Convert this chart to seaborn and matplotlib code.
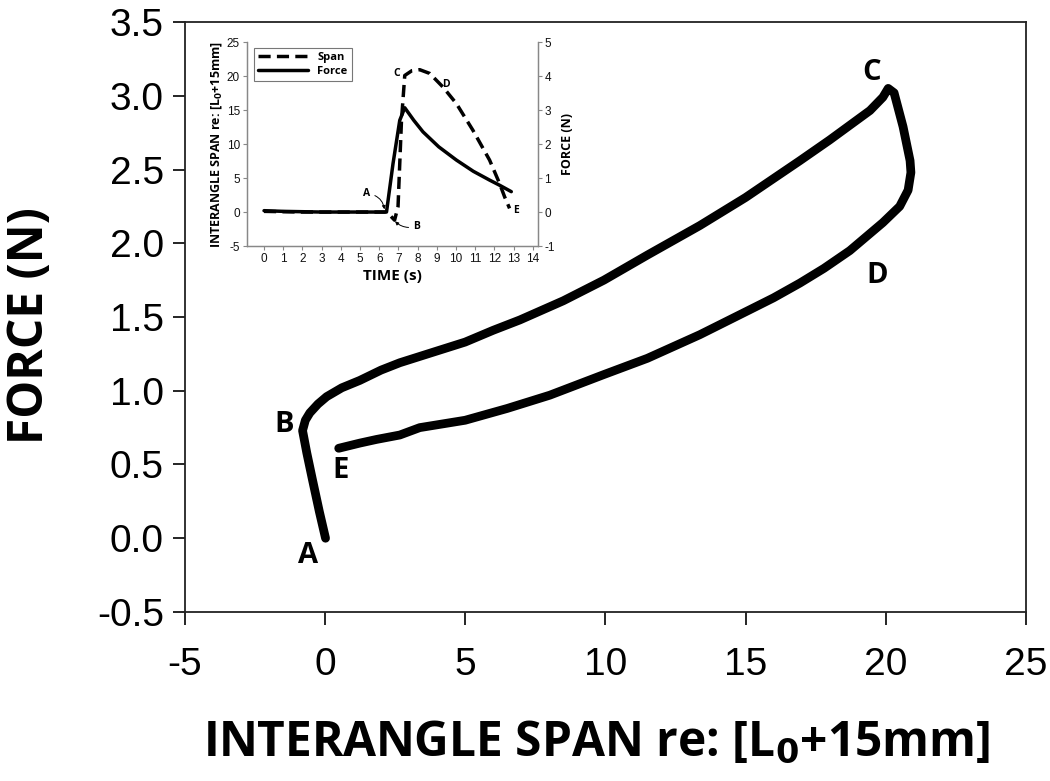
import matplotlib
matplotlib.use("Agg")
import matplotlib.pyplot as plt
import seaborn as sns
import pandas as pd
from matplotlib.lines import Line2D

sns.set_style("ticks")
plt.rcParams['font.family'] = ['Liberation Sans', 'DejaVu Sans']
plt.rcParams['axes.unicode_minus'] = False
plt.rcParams['text.color'] = 'black'
plt.rcParams['axes.labelcolor'] = 'black'
plt.rcParams['xtick.color'] = 'black'
plt.rcParams['ytick.color'] = 'black'

# main loop: force vs interangle span, A -> B -> C -> D -> E
span_main = [0.02, -0.2, -0.45, -0.65, -0.8, -0.7, -0.54, -0.25, 0.06, 0.6, 1.24,
             2.0, 2.67, 4.0, 5.0, 6.0, 6.95, 8.5, 9.95, 11.5, 13.37, 15.0, 16.94,
             18.0, 18.72, 19.44, 19.9, 20.09, 20.3, 20.62, 20.87, 20.9, 20.8, 20.5,
             19.9, 18.72, 17.8, 16.94, 16.0, 15.16, 13.37, 11.5, 9.95, 8.02, 6.5,
             5.0, 3.38, 2.67, 1.84, 1.24, 0.49]
force_main = [0.0, 0.18, 0.4, 0.58, 0.73, 0.8, 0.85, 0.91, 0.96, 1.02, 1.07,
              1.14, 1.19, 1.27, 1.33, 1.41, 1.48, 1.61, 1.75, 1.92, 2.12, 2.31, 2.56,
              2.70, 2.80, 2.90, 2.99, 3.05, 3.02, 2.79, 2.56, 2.48, 2.36, 2.25,
              2.14, 1.95, 1.83, 1.73, 1.63, 1.55, 1.38, 1.22, 1.11, 0.97, 0.88,
              0.80, 0.75, 0.70, 0.67, 0.645, 0.61]

# inset: time courses
time_span = [0, 1, 2, 3, 4, 5, 6, 6.38, 6.6, 6.8, 6.98, 7.16, 7.33, 7.7, 8.11,
             8.63, 9.32, 10.02, 10.88, 11.75, 12.27, 12.53, 12.79]
span_t = [0.1, 0.05, 0, 0, 0, 0, 0, 0, -0.6, -1.2, 0.8, 13.5, 20.1, 20.8, 20.95,
          20.4, 18.4, 15.96, 12.04, 7.64, 4.2, 2.25, 0.54]
time_force = [0, 1, 2, 3, 4, 5, 6, 6.38, 6.72, 7.07, 7.33, 7.8, 8.28, 9.1, 10.02,
              10.9, 11.75, 12.3, 12.88]
force_t = [0.04, 0.02, 0.01, 0, 0, 0, 0, 0, 1.43, 2.7, 3.07, 2.7, 2.36, 1.92,
           1.53, 1.2, 0.94, 0.78, 0.60]

main_labels = ["A", "B", "C", "D", "E"]
main_label_pos = [(-0.6, -0.12), (-1.45, 0.77), (19.5, 3.16), (19.7, 1.78), (0.55, 0.46)]

fig = plt.figure(figsize=(10.5, 7.81), dpi=100)
ax = fig.add_axes([0.176, 0.2164, 0.801, 0.7554])

df_main = pd.DataFrame({"span": span_main, "force": force_main})
sns.lineplot(data=df_main, x="span", y="force", sort=False, estimator=None,
             color="black", lw=6.3, ax=ax, solid_capstyle="round", solid_joinstyle="round")
ax.set_xlim(-5, 25)
ax.set_ylim(-0.5, 3.5)
ax.set_xticks(range(-5, 26, 5))
ax.set_yticks([-0.5, 0, 0.5, 1, 1.5, 2, 2.5, 3, 3.5])
ax.set_yticklabels([f"{v:.1f}" for v in ax.get_yticks()])
ax.tick_params(axis="both", labelsize=28, length=9, width=1.2, direction="out", pad=6)
ax.tick_params(axis="x", pad=16)
for s in ax.spines.values():
    s.set_linewidth(1.3)
    s.set_color("#222222")
ax.set_xlabel("INTERANGLE SPAN re: [L$_\\mathbf{0}$+15mm]", fontsize=34.5,
              fontweight="bold", family="Open Sans")
ax.set_ylabel("FORCE (N)", fontsize=34.5, fontweight="bold", family="Open Sans")
ax.xaxis.set_label_coords(0.49, -0.182)
ax.yaxis.set_label_coords(-0.154, 0.486)
for lab, (x, y) in zip(main_labels, main_label_pos):
    ax.text(x, y, lab, fontsize=21, fontweight="bold", family="Open Sans",
            ha="center", va="center")

# inset
ins = fig.add_axes([0.235, 0.685, 0.277, 0.261])
ins2 = ins.twinx()
dash = (0, (3.5, 1.8))
sns.lineplot(x=time_span, y=span_t, color="black", lw=2.5, ax=ins, linestyle=dash,
             sort=False, estimator=None)
sns.lineplot(x=time_force, y=force_t, color="black", lw=2.5, ax=ins2,
             sort=False, estimator=None)
ins.set_xlim(-0.9, 14.25)
ins.set_ylim(-5, 25)
ins2.set_ylim(-1, 5)
ins.set_xticks(range(0, 15))
ins.set_yticks(range(-5, 26, 5))
ins2.set_yticks(range(-1, 6))
for a in (ins, ins2):
    a.tick_params(labelsize=8.5, length=3, width=0.8, direction="out", pad=2,
                  colors="#888888", labelcolor="#111111")
    a.spines["top"].set_visible(False)
    for s in a.spines.values():
        s.set_linewidth(0.9)
        s.set_color("#888888")
ins.set_xlabel("TIME (s)", fontsize=11, fontweight="bold", family="Open Sans", labelpad=3)
ins.set_ylabel("INTERANGLE SPAN re: [L$_\\mathbf{0}$+15mm]", fontsize=9,
               fontweight="bold", family="Open Sans", labelpad=2)
ins2.set_ylabel("FORCE (N)", fontsize=9, fontweight="bold", family="Open Sans", labelpad=4)

handles = [Line2D([], [], color="black", lw=2.5, linestyle=dash),
           Line2D([], [], color="black", lw=2.5)]
leg = ins.legend(handles, ["Span", "Force"], loc="upper left",
                 handlelength=4.5, fancybox=False, edgecolor="#555555",
                 prop={"weight": "bold", "size": 8, "family": "Open Sans"},
                 borderpad=0.4, labelspacing=0.25, bbox_to_anchor=(0.005, 1.0))
leg.get_frame().set_linewidth(0.8)

txt_kw = dict(fontsize=7.5, fontweight="bold", family="Open Sans")
arrow_kw = dict(arrowstyle="-|>", lw=0.7, color="black", mutation_scale=5,
                shrinkA=1, shrinkB=0.5)
ins.annotate("A", xy=(6.28, 0.3), xytext=(5.35, 2.7), ha="center", va="center",
             arrowprops=dict(connectionstyle="arc3,rad=-0.4", **arrow_kw), **txt_kw)
ins.annotate("B", xy=(6.8, -1.3), xytext=(7.95, -2.1), ha="center", va="center",
             arrowprops=dict(connectionstyle="arc3,rad=-0.3", **arrow_kw), **txt_kw)
ins.text(6.92, 20.4, "C", ha="center", va="center", **txt_kw)
ins.text(9.5, 18.7, "D", ha="center", va="center", **txt_kw)
ins.text(13.15, 0.2, "E", ha="center", va="center", **txt_kw)

fig.savefig("out.png", dpi=100)
